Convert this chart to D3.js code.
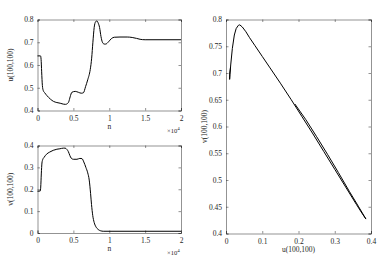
<!DOCTYPE html>
<html>
<head>
<meta charset="utf-8">
<script src="https://cdn.jsdelivr.net/npm/d3@7"></script>
<style>
  body { margin: 0; background: #fff; }
  text { font-family: "Liberation Serif", "Times New Roman", serif; fill: #262626; }
</style>
</head>
<body>
<div id="chart"></div>
<script>
// u(100,100) against the step n
var uSteps  = [0, 420, 500, 580, 680, 800, 1000, 1300, 1800, 2230, 2700, 3160, 3600, 3900, 4150, 4350, 4550, 4790,
               5260, 5700, 6100, 6400, 6700, 7000, 7350, 7550, 7720, 7900, 8100, 8280, 8450, 8650, 8850, 9050,
               9300, 9500, 9900, 10300, 10700, 11500, 12500, 13200, 13800, 14300, 15000, 20000];
var uValues = [0.640, 0.640, 0.625, 0.570, 0.510, 0.488, 0.478, 0.466, 0.450, 0.440, 0.435, 0.432, 0.428, 0.427,
               0.430, 0.438, 0.460, 0.480, 0.484, 0.480, 0.476, 0.478, 0.505, 0.535, 0.580, 0.630, 0.700, 0.765,
               0.790, 0.794, 0.785, 0.765, 0.725, 0.700, 0.692, 0.692, 0.702, 0.716, 0.722, 0.723, 0.723, 0.721,
               0.717, 0.713, 0.711, 0.711];

// v(100,100) against the step n
var vSteps  = [0, 380, 450, 530, 620, 720, 900, 1250, 1700, 2190, 2700, 3120, 3600, 3850, 4100, 4300, 4500, 4700,
               5000, 5500, 5900, 6200, 6450, 6740, 7000, 7210, 7400, 7530, 7700, 7900, 8150, 8460, 8800, 9160, 20000];
var vValues = [0.191, 0.192, 0.210, 0.270, 0.320, 0.335, 0.345, 0.360, 0.370, 0.378, 0.383, 0.385, 0.388, 0.388,
               0.382, 0.372, 0.355, 0.342, 0.337, 0.337, 0.341, 0.340, 0.325, 0.300, 0.275, 0.242, 0.180, 0.130,
               0.080, 0.048, 0.028, 0.016, 0.010, 0.008, 0.008];

// phase trajectory, in time order
var phaseX = [0.190, 0.220, 0.250, 0.280, 0.310, 0.340, 0.365, 0.386,
              0.375, 0.360, 0.330, 0.300, 0.270, 0.240, 0.210, 0.180, 0.150, 0.120, 0.100, 0.080, 0.065,
              0.055, 0.045, 0.038, 0.034, 0.028, 0.023, 0.0175, 0.013, 0.011, 0.010, 0.0103, 0.0125];
var phaseY = [0.642, 0.613, 0.581, 0.548, 0.514, 0.479, 0.451, 0.427,
              0.438, 0.454, 0.487, 0.520, 0.553, 0.586, 0.618, 0.650, 0.681, 0.711, 0.731, 0.751, 0.766,
              0.777, 0.786, 0.790, 0.789, 0.783, 0.771, 0.746, 0.715, 0.697, 0.688, 0.700, 0.711];

var stepTicks = [0, 5000, 10000, 15000, 20000];
var stepTickLabels = ["0", "0.5", "1", "1.5", "2"];
var uTicks = [0.4, 0.5, 0.6, 0.7, 0.8];
var vTicks = [0, 0.1, 0.2, 0.3, 0.4];
var phaseXTicks = [0, 0.1, 0.2, 0.3, 0.4];
var phaseYTicks = [0.4, 0.45, 0.5, 0.55, 0.6, 0.65, 0.7, 0.75, 0.8];

var width = 390, height = 261;
var svg = d3.select("#chart").append("svg")
    .attr("width", width)
    .attr("height", height);

function panel(box, xDomain, yDomain, xTicks, xFmt, yTicks, xs, ys, curve, xLabel, yLabel, exponent) {
    var x = d3.scaleLinear().domain(xDomain).range([box.left, box.right]);
    var y = d3.scaleLinear().domain(yDomain).range([box.bottom, box.top]);
    var g = svg.append("g");
    var tl = 2.5;

    g.append("g")
        .attr("transform", "translate(0," + box.bottom + ")")
        .call(d3.axisBottom(x).tickValues(xTicks).tickSize(-tl).tickPadding(5).tickFormat(xFmt))
        .call(styleAxis);
    g.append("g")
        .attr("transform", "translate(0," + box.top + ")")
        .call(d3.axisTop(x).tickValues(xTicks).tickSize(-tl).tickFormat(""))
        .call(styleAxis);
    g.append("g")
        .attr("transform", "translate(" + box.left + ",0)")
        .call(d3.axisLeft(y).tickValues(yTicks).tickSize(-tl).tickPadding(4).tickFormat(d3.format("")))
        .call(styleAxis);
    g.append("g")
        .attr("transform", "translate(" + box.right + ",0)")
        .call(d3.axisRight(y).tickValues(yTicks).tickSize(-tl).tickFormat(""))
        .call(styleAxis);

    var line = d3.line()
        .x(function (d) { return x(d[0]); })
        .y(function (d) { return y(d[1]); })
        .curve(curve);
    g.append("path")
        .datum(d3.zip(xs, ys))
        .attr("fill", "none")
        .attr("stroke", "#000")
        .attr("stroke-width", 1)
        .attr("stroke-linejoin", "round")
        .attr("d", line);

    g.append("text")
        .attr("x", (box.left + box.right) / 2)
        .attr("y", box.bottom + 18)
        .attr("text-anchor", "middle")
        .attr("font-size", 7.5)
        .text(xLabel);
    g.append("text")
        .attr("transform", "translate(" + (box.left - box.yLabelGap) + "," + ((box.top + box.bottom) / 2) + ") rotate(-90)")
        .attr("text-anchor", "middle")
        .attr("font-size", 7.5)
        .text(yLabel);

    if (exponent) {
        var ex = g.append("text")
            .attr("x", box.right - 14)
            .attr("y", box.bottom + 22)
            .attr("font-size", 6.5);
        ex.append("tspan").text("\u00d710");
        ex.append("tspan").attr("dy", -3).attr("font-size", 5).text("4");
    }
}

function styleAxis(sel) {
    sel.select(".domain").attr("stroke", "#262626").attr("stroke-width", 0.5);
    sel.selectAll(".tick line").attr("stroke", "#262626").attr("stroke-width", 0.5);
    sel.selectAll(".tick text")
        .attr("font-size", 7.5)
        .attr("fill", "#262626");
}

var stepFmt = function (d, i) { return stepTickLabels[i]; };

panel({left: 37.5, right: 181, top: 19.5, bottom: 110.5, yLabelGap: 25},
      [0, 20000], [0.4, 0.8], stepTicks, stepFmt, uTicks,
      uSteps, uValues, d3.curveMonotoneX, "n", "u(100,100)", true);

panel({left: 37.5, right: 181, top: 145.5, bottom: 233, yLabelGap: 25},
      [0, 20000], [0, 0.4], stepTicks, stepFmt, vTicks,
      vSteps, vValues, d3.curveMonotoneX, "n", "v(100,100)", true);

panel({left: 226, right: 371, top: 19.5, bottom: 233.5, yLabelGap: 19},
      [0, 0.4], [0.4, 0.8], phaseXTicks, d3.format(""), phaseYTicks,
      phaseX, phaseY, d3.curveLinear, "u(100,100)", "v(100,100)", false);
</script>
</body>
</html>
